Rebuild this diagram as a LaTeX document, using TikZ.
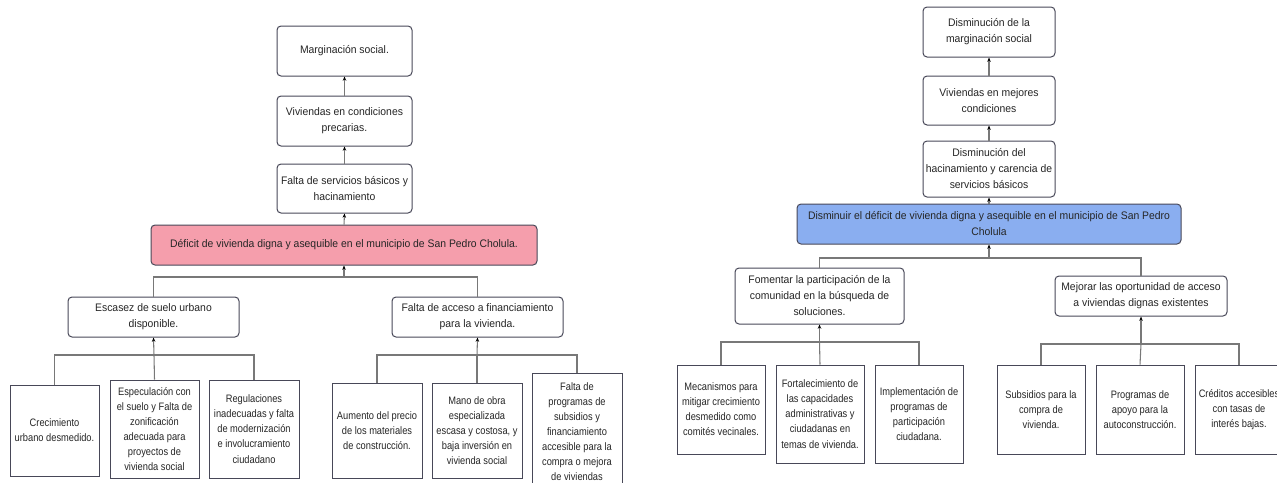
\documentclass[tikz,border=0pt]{standalone}
\usepackage{fontspec}
\setmainfont{Liberation Sans}
\newfontfamily\upfont[FakeStretch=0.95]{Liberation Sans}
\newfontfamily\lowfont[FakeStretch=0.86]{Liberation Sans}
\usetikzlibrary{arrows.meta}
\definecolor{bordc}{RGB}{72,72,88}
\definecolor{connc}{RGB}{120,120,120}
\definecolor{pinkc}{RGB}{245,158,172}
\definecolor{bluec}{RGB}{138,174,240}
\tikzset{
  sz/.style 2 args={minimum width={#1*0.75pt}, minimum height={#2*0.75pt}},
  basebox/.style={draw=bordc, line width=0.75pt, align=center, inner sep=1pt, text=black!85},
  rbox/.style={basebox, rounded corners=3pt, fill=white, font=\upfont\fontsize{8.2}{12}\selectfont},
  sbox/.style={basebox, fill=white, font=\lowfont\fontsize{8.1}{11.3}\selectfont},
  conn/.style={draw=connc, line width=0.8pt},
  arr/.style={conn, -{Stealth[length=3.2pt,width=2.6pt,black]}}
}
\begin{document}
\begin{tikzpicture}[x=0.75pt,y=-0.75pt]
\useasboundingbox (0,0) rectangle (1277,482);
\clip (0,0) rectangle (1277,482);
% ---------------- left tree ----------------
\node[rbox, sz={135}{50}] (m1) at (344.5,51) {Marginación social.};
\node[rbox, sz={135}{50}] (m2) at (344.5,121) {Viviendas en condiciones\\precarias.};
\node[rbox, sz={135}{49}] (m3) at (344.5,188.5) {Falta de servicios básicos y\\hacinamiento};
\node[rbox, sz={386}{40}, fill=pinkc] (def) at (344,245) {Déficit de vivienda digna y asequible en el municipio de San Pedro Cholula.};
\node[rbox, sz={171}{40}] (e1) at (153.5,317) {Escasez de suelo urbano\\disponible.};
\node[rbox, sz={171}{40}] (e2) at (477.5,317) {Falta de acceso a financiamiento\\para la vivienda.};
\node[sbox, sz={89}{91}] (c1) at (54.5,430.5) {Crecimiento\\urbano desmedido.};
\node[sbox, sz={89}{98}] (c2) at (154.5,429) {Especulación con\\el suelo y Falta de\\zonificación\\adecuada para\\proyectos de\\vivienda social};
\node[sbox, sz={90}{98}] (c3) at (254,429) {Regulaciones\\inadecuadas y falta\\de modernización\\e involucramiento\\ciudadano};
\node[sbox, sz={90}{95}] (c4) at (377,430.5) {Aumento del precio\\de los materiales\\de construcción.};
\node[sbox, sz={90}{95}] (c5) at (477,430.5) {Mano de obra\\especializada\\escasa y costosa, y\\baja inversión en\\vivienda social};
\node[sbox, sz={90}{117}] (c6) at (577,431.5) {Falta de\\programas de\\subsidios y\\financiamiento\\accesible para la\\compra o mejora\\de viviendas};
\coordinate (b1) at (344,277);
\coordinate (b2) at (154,355);
\coordinate (b3) at (477,355);
\draw[arr] (m2.north) -- (m1.south);
\draw[arr] (m3.north) -- (m2.south);
\draw[arr] (def.north) -- (m3.south);
\draw[conn] (e1.north) |- (e2.north |- b1) -- (e2.north);
\draw[arr] (b1) -- (def.south);
\draw[conn] (c1.north) |- (c3.north |- b2) -- (c3.north);
\draw[conn] (c2.north) -- (b2);
\draw[arr] (b2) -- (e1.south);
\draw[conn] (c4.north) |- (c6.north |- b3) -- (c6.north);
\draw[conn] (c5.north) -- (b3);
\draw[arr] (b3) -- (e2.south);
% ---------------- right tree ----------------
\node[rbox, sz={132}{50}] (r1) at (989,32) {Disminución de la\\marginación social};
\node[rbox, sz={132}{49}] (r2) at (989,100.5) {Viviendas en mejores\\condiciones};
\node[rbox, sz={132}{56}] (r3) at (989,169) {Disminución del\\hacinamiento y carencia de\\servicios básicos};
\node[rbox, sz={384}{40}, fill=bluec] (rb) at (989,224) {Disminuir el déficit de vivienda digna y asequible en el municipio de San Pedro\\Cholula};
\node[rbox, sz={169}{56}] (f1) at (819.5,296) {Fomentar la participación de la\\comunidad en la búsqueda de\\soluciones.};
\node[rbox, sz={172}{40}] (f2) at (1141,296) {Mejorar las oportunidad de acceso\\a viviendas dignas existentes};
\node[sbox, sz={88}{89}] (g1) at (721,409.5) {Mecanismos para\\mitigar crecimiento\\desmedido como\\comités vecinales.};
\node[sbox, sz={88}{98}] (g2) at (820,414) {Fortalecimiento de\\las capacidades\\administrativas y\\ciudadanas en\\temas de vivienda.};
\node[sbox, sz={88}{98}] (g3) at (919,414) {Implementación de\\programas de\\participación\\ciudadana.};
\node[sbox, sz={88}{89}] (h1) at (1041,409.5) {Subsidios para la\\compra de\\vivienda.};
\node[sbox, sz={88}{89}] (h2) at (1140,409.5) {Programas de\\apoyo para la\\autoconstrucción.};
\node[sbox, sz={88}{89}] (h3) at (1239,409.5) {Créditos accesibles\\con tasas de\\interés bajas.};
\coordinate (d1) at (989,258);
\coordinate (d2) at (819.5,342);
\coordinate (d3) at (1141,344);
\draw[arr] (r2.north) -- (r1.south);
\draw[arr] (r3.north) -- (r2.south);
\draw[arr] (rb.north) -- (r3.south);
\draw[conn] (f1.north) |- (f2.north |- d1) -- (f2.north);
\draw[arr] (d1) -- (rb.south);
\draw[conn] (g1.north) |- (g3.north |- d2) -- (g3.north);
\draw[conn] (g2.north) -- (d2);
\draw[arr] (d2) -- (f1.south);
\draw[conn] (h1.north) |- (h3.north |- d3) -- (h3.north);
\draw[conn] (h2.north) -- (d3);
\draw[arr] (d3) -- (f2.south);
\end{tikzpicture}
\end{document}
